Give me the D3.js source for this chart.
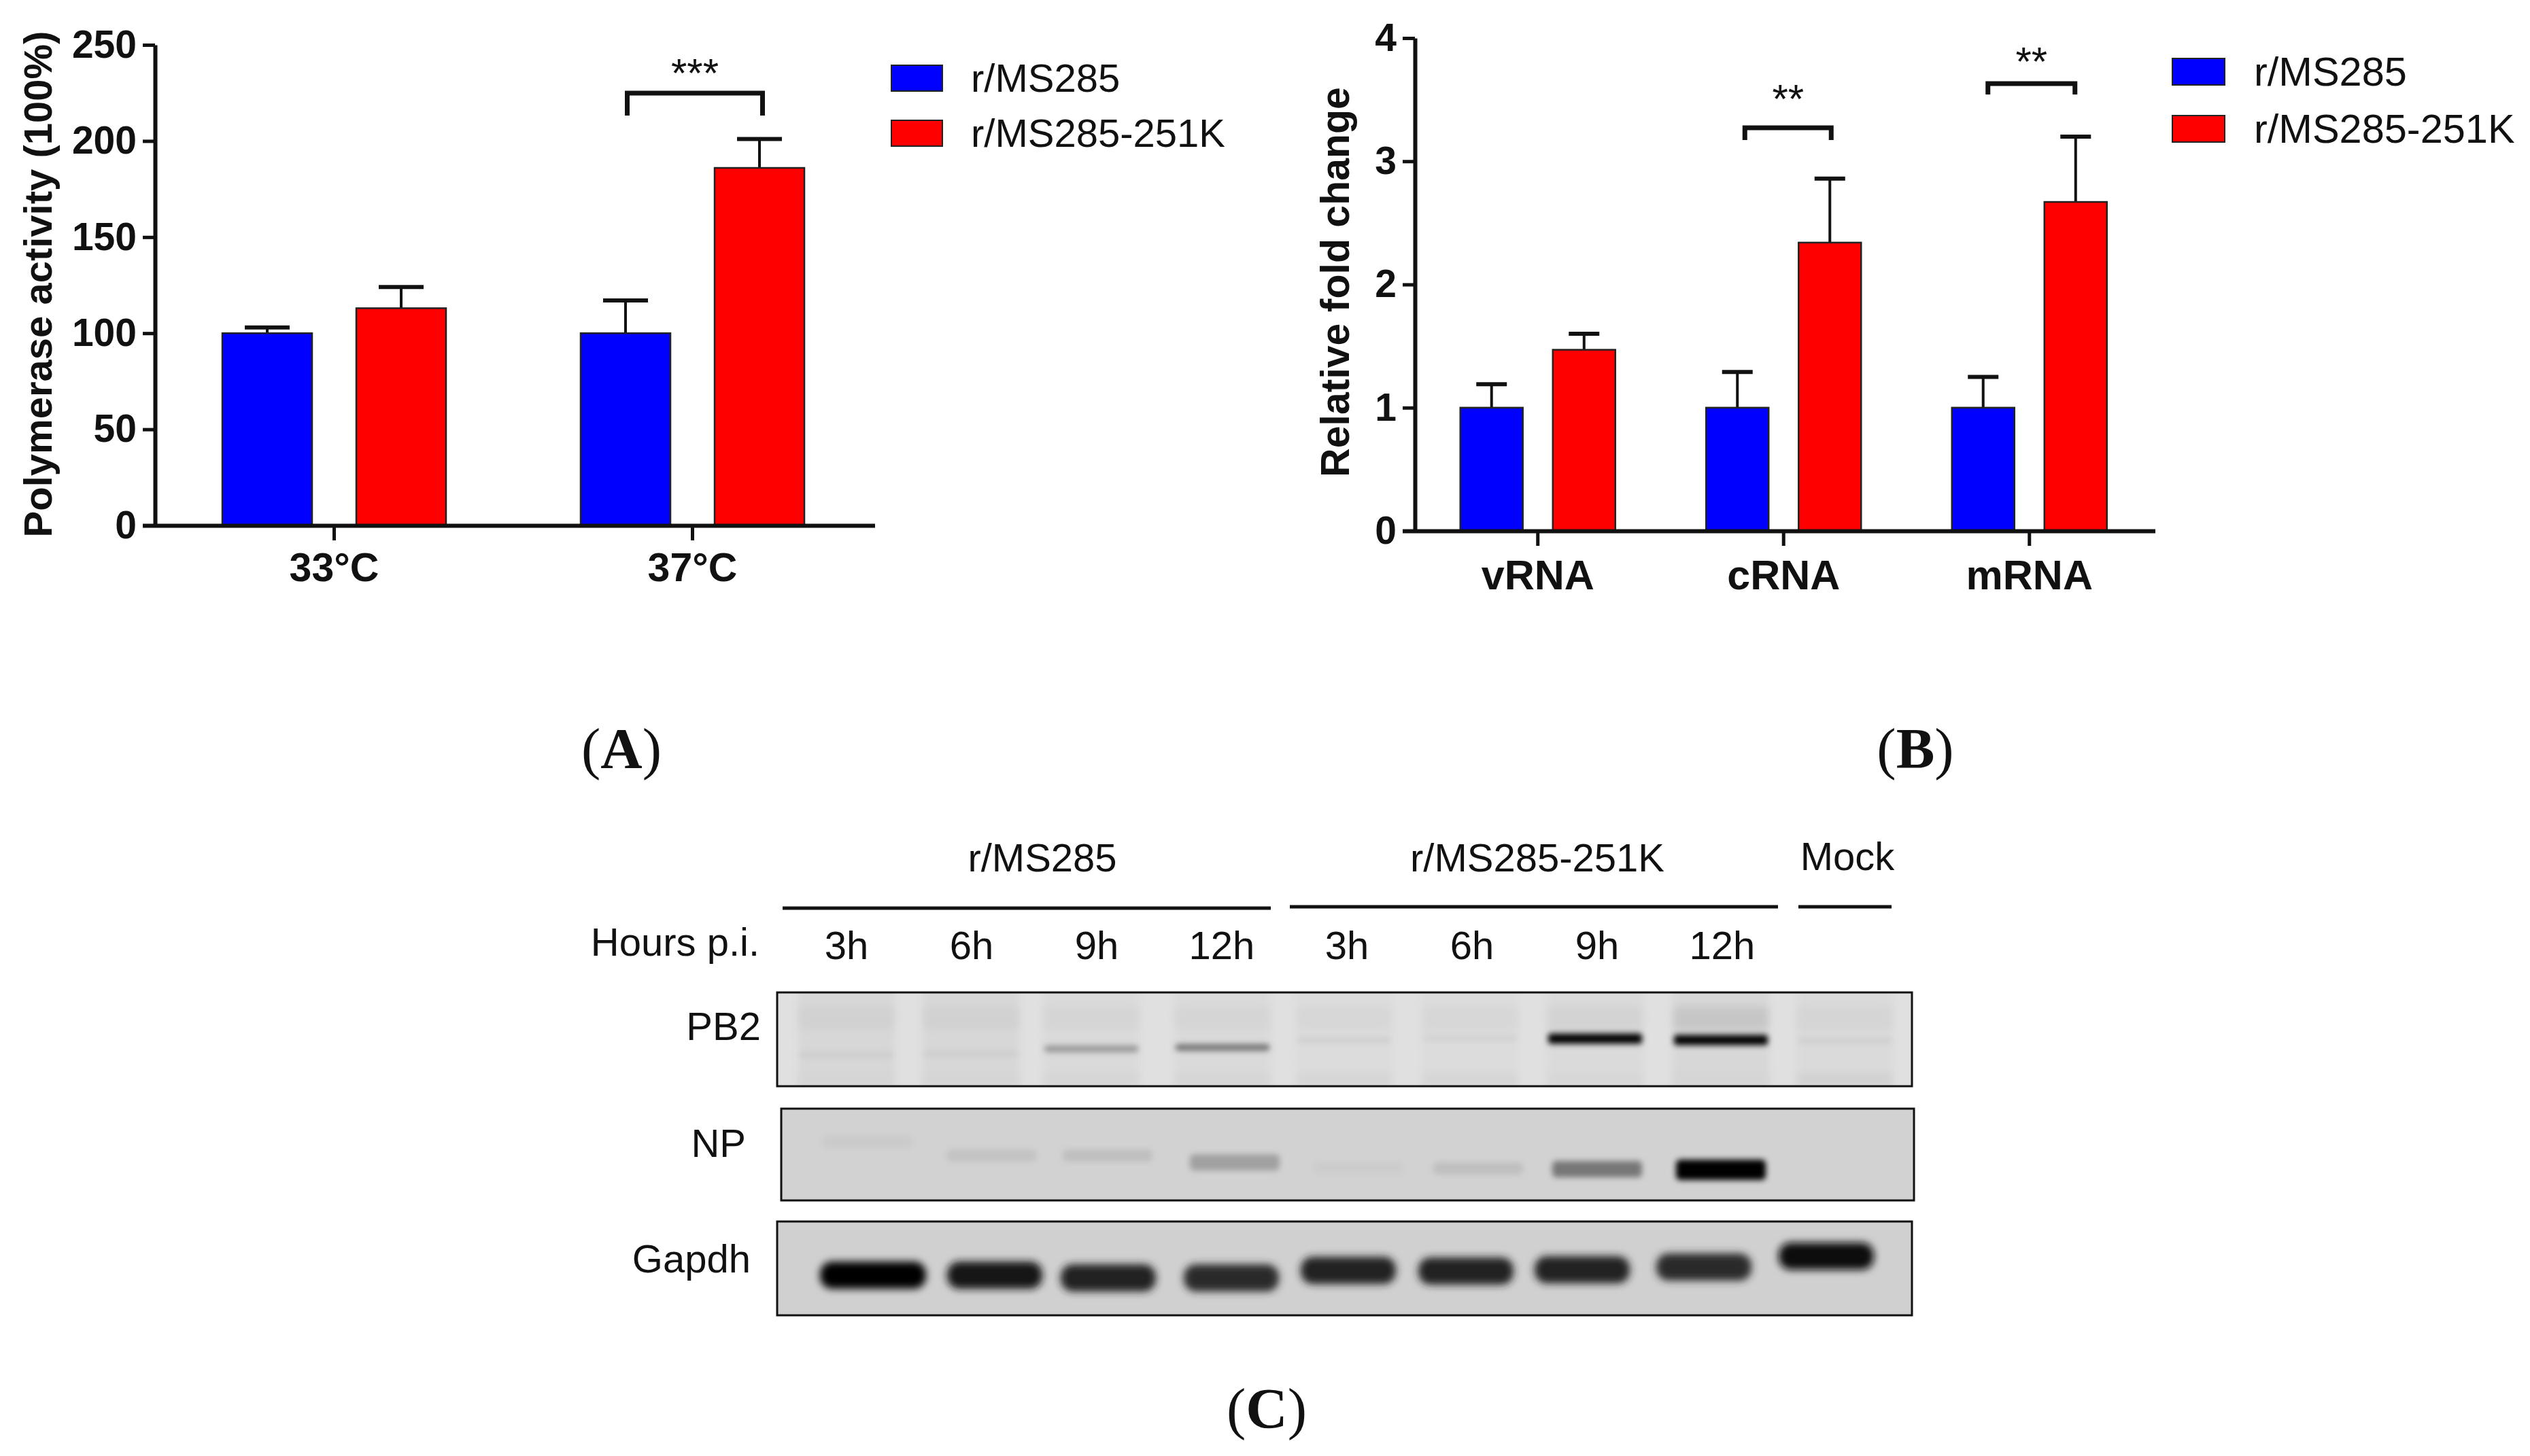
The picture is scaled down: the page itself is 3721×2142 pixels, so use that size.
<!DOCTYPE html>
<html>
<head>
<meta charset="utf-8">
<script src="https://cdn.jsdelivr.net/npm/d3@7"></script>
<style>
	html, body { margin: 0; background: #fff; }
	svg { display: block; }
	text { font-family: "Liberation Sans", Arial, sans-serif; fill: #111; }
	.bold { font-weight: bold; }
</style>
</head>
<body>
<div id="chart"></div>
<script>
//data for panel A
const seriesNames = ['r/MS285', 'r/MS285-251K'];
const seriesColors = ['#0000ff', '#ff0000'];
const tempCategories = ['33°C', '37°C'];
const tempMeans = [[100, 100], [113, 186]];
const tempTops = [[103, 117], [124, 201]];
const tempTicks = [0, 50, 100, 150, 200, 250];

//data for panel B
const rnaCategories = ['vRNA', 'cRNA', 'mRNA'];
const rnaMeans = [[1, 1, 1], [1.47, 2.34, 2.67]];
const rnaTops = [[1.19, 1.29, 1.25], [1.6, 2.86, 3.2]];
const rnaTicks = [0, 1, 2, 3, 4];

//data for panel C: band darkness by lane, 0 = nothing, 1 = black
const hourLabels = ['3h', '6h', '9h', '12h', '3h', '6h', '9h', '12h'];
const laneIds = ['a3', 'a6', 'a9', 'a12', 'b3', 'b6', 'b9', 'b12', 'mock'];
const pb2Signal = [0.07, 0.07, 0.33, 0.5, 0.06, 0.05, 1, 1, 0.06];
const pb2Upper = [0.07, 0.07, 0.05, 0.05, 0.04, 0.04, 0.06, 0.12, 0.05];
const pb2Lower = [0.05, 0.05, 0.05, 0.05, 0.05, 0.05, 0.04, 0.05, 0.07];
const pb2Smear = [0.04, 0.04, 0.03, 0.03, 0.02, 0.02, 0.03, 0.04, 0.03];
const npSignal = [0.04, 0.07, 0.09, 0.24, 0.03, 0.09, 0.45, 1, 0];
const gapdhSignal = [1, 0.93, 0.85, 0.82, 0.85, 0.85, 0.85, 0.82, 0.95];

const W = 3721;
const H = 2142;

const svg = d3.select('#chart')
	.append('svg')
	.attr('width', W)
	.attr('height', H);

const defs = svg.append('defs');
[['blur-soft', 6], ['blur-band', 4.5], ['blur-wide', 9]].forEach(function(f){
	defs.append('filter')
		.attr('id', f[0])
		.attr('x', '-30%').attr('y', '-150%')
		.attr('width', '160%').attr('height', '400%')
		.append('feGaussianBlur')
		.attr('stdDeviation', f[1]);
});

//one bar panel, positions come from the config
function drawBars(cfg){
	const plot = svg.append('g');

	const scaleX = d3.scaleBand().domain(cfg.categories).range(cfg.xRange);
	const half = cfg.groupSpan / 2;
	const scaleSeries = d3.scaleBand()
		.domain(seriesNames)
		.range([-half, half])
		.paddingInner(cfg.barGap);
	const scaleY = d3.scaleLinear().domain(cfg.yDomain).range(cfg.yRange);

	seriesNames.forEach(function(name, s){
		cfg.categories.forEach(function(cat, i){
			const x = scaleX(cat) + scaleX.bandwidth()/2 + scaleSeries(name);
			const mid = x + scaleSeries.bandwidth()/2;
			const node = plot.append('g');

			node.append('line')
				.attr('x1', mid).attr('x2', mid)
				.attr('y1', scaleY(cfg.means[s][i]))
				.attr('y2', scaleY(cfg.tops[s][i]))
				.attr('stroke', '#111')
				.attr('stroke-width', 4);

			node.append('line')
				.attr('x1', mid - cfg.capWidth/2).attr('x2', mid + cfg.capWidth/2)
				.attr('y1', scaleY(cfg.tops[s][i]))
				.attr('y2', scaleY(cfg.tops[s][i]))
				.attr('stroke', '#111')
				.attr('stroke-width', 6);

			node.append('rect')
				.attr('x', x)
				.attr('y', scaleY(cfg.means[s][i]))
				.attr('width', scaleSeries.bandwidth())
				.attr('height', scaleY(0) - scaleY(cfg.means[s][i]))
				.attr('fill', seriesColors[s])
				.attr('stroke', '#222')
				.attr('stroke-width', 2.5);
		});
	});

	const axisY = plot.append('g')
		.attr('transform', `translate(${cfg.xRange[0]}, 0)`)
		.call(d3.axisLeft(scaleY).tickValues(cfg.ticks).tickFormat(d3.format('d')).tickSize(18).tickSizeOuter(0).tickPadding(9));
	const axisX = plot.append('g')
		.attr('transform', `translate(0, ${cfg.yRange[0]})`)
		.call(d3.axisBottom(scaleX).tickSize(22).tickSizeOuter(0).tickPadding(cfg.xPad));

	axisX.select('.domain').attr('d', `M${cfg.xRange[0] - 18},0.5H${cfg.xEnd}`);
	[axisX, axisY].forEach(function(a){
		a.select('.domain').attr('stroke', '#111').attr('stroke-width', 6);
		a.selectAll('.tick line').attr('stroke', '#111').attr('stroke-width', 5);
		a.selectAll('text')
			.attr('class', 'bold')
			.style('font-size', '57px')
			.style('font-family', '"Liberation Sans", Arial, sans-serif')
			.style('fill', '#111');
	});
	axisX.selectAll('text').style('font-size', cfg.xSize + 'px');

	plot.append('text')
		.attr('class', 'bold')
		.attr('transform', `translate(${cfg.titleX}, ${cfg.titleY}) rotate(-90)`)
		.attr('text-anchor', 'middle')
		.style('font-size', cfg.titleSize + 'px')
		.text(cfg.title);

	cfg.brackets.forEach(function(b){
		const cat = scaleX(b.cat) + scaleX.bandwidth()/2;
		const p = d3.path();
		p.moveTo(cat + b.dx[0], b.y[1]);
		p.lineTo(cat + b.dx[0], b.y[0]);
		p.lineTo(cat + b.dx[1], b.y[0]);
		p.lineTo(cat + b.dx[1], b.y[1]);
		plot.append('path')
			.attr('d', p.toString())
			.attr('fill', 'none')
			.attr('stroke', '#111')
			.attr('stroke-width', 7);
		plot.append('text')
			.attr('x', cat + (b.dx[0] + b.dx[1])/2)
			.attr('y', b.starY)
			.attr('text-anchor', 'middle')
			.style('font-size', '60px')
			.text(b.stars);
	});

	seriesNames.forEach(function(name, s){
		plot.append('rect')
			.attr('x', cfg.legendX)
			.attr('y', cfg.legendY[s])
			.attr('width', cfg.swatch[0])
			.attr('height', cfg.swatch[1])
			.attr('fill', seriesColors[s])
			.attr('stroke', '#222')
			.attr('stroke-width', 2);
		plot.append('text')
			.attr('x', cfg.legendX + cfg.swatch[0] + cfg.legendGap)
			.attr('y', cfg.legendY[s] + cfg.swatch[1]/2 + 20)
			.style('font-size', cfg.legendSize + 'px')
			.text(name);
	});
}

drawBars({
	categories: tempCategories, means: tempMeans, tops: tempTops, ticks: tempTicks,
	xRange: [228, 1282], xEnd: 1287, yDomain: [0, 250], yRange: [773, 66],
	groupSpan: 329, barGap: 0.33, capWidth: 66, xPad: 18, xSize: 59,
	title: 'Polymerase activity (100%)', titleX: 76, titleY: 418, titleSize: 58,
	brackets: [{cat: '37°C', dx: [-96, 103], y: [137, 170], stars: '***', starY: 128}],
	legendX: 1311, legendY: [96, 177], swatch: [75, 38], legendGap: 42, legendSize: 58
});

drawBars({
	categories: rnaCategories, means: rnaMeans, tops: rnaTops, ticks: rnaTicks,
	xRange: [2081, 3165.5], xEnd: 3170, yDomain: [0, 4], yRange: [781, 56],
	groupSpan: 228, barGap: 0.324, capWidth: 45, xPad: 21, xSize: 61,
	title: 'Relative fold change', titleX: 1984, titleY: 415, titleSize: 59,
	brackets: [
		{cat: 'cRNA', dx: [-57, 70], y: [188, 206], stars: '**', starY: 166},
		{cat: 'mRNA', dx: [-61, 67], y: [123, 139], stars: '**', starY: 111}
	],
	legendX: 3195, legendY: [86, 170], swatch: [77, 39], legendGap: 43, legendSize: 59.5
});

//panel letters
[['A', 914, 1130], ['B', 2817, 1130], ['C', 1863, 2101]].forEach(function(d){
	const t = svg.append('text')
		.attr('x', d[1]).attr('y', d[2])
		.attr('text-anchor', 'middle')
		.style('font-family', '"Liberation Serif", serif')
		.style('font-size', '85px');
	t.append('tspan').text('(');
	t.append('tspan').attr('font-weight', 'bold').text(d[0]);
	t.append('tspan').text(')');
});

//panel C
const blot = svg.append('g');
const scaleLane = d3.scalePoint().domain(laneIds).range([1245, 2717]);
const scaleDark = d3.scaleLinear().domain([0, 1]).range(['#d6d6d6', '#040404']);

function label(txt, x, y, anchor){
	blot.append('text')
		.attr('x', x).attr('y', y)
		.attr('text-anchor', anchor)
		.style('font-size', '58px')
		.text(txt);
}

label('r/MS285', 1533, 1282, 'middle');
label('r/MS285-251K', 2261, 1282, 'middle');
label('Mock', 2717, 1280, 'middle');
label('Hours p.i.', 1117, 1406, 'end');
hourLabels.forEach(function(h, i){
	label(h, scaleLane(laneIds[i]), 1411, 'middle');
});
[[1151, 1869, 1336], [1897, 2615, 1334], [2645, 2782, 1334]].forEach(function(l){
	blot.append('line')
		.attr('x1', l[0]).attr('x2', l[1])
		.attr('y1', l[2]).attr('y2', l[2])
		.attr('stroke', '#111')
		.attr('stroke-width', 5);
});
label('PB2', 1119, 1530, 'end');
label('NP', 1097, 1702, 'end');
label('Gapdh', 1104, 1872, 'end');

function blotPanel(id, x0, x1, y0, y1, bg){
	blot.append('clipPath').attr('id', id)
		.append('rect').attr('x', x0).attr('y', y0).attr('width', x1 - x0).attr('height', y1 - y0);
	blot.append('rect')
		.attr('x', x0).attr('y', y0).attr('width', x1 - x0).attr('height', y1 - y0)
		.attr('fill', bg);
	const inner = blot.append('g').attr('clip-path', `url(#${id})`);
	return {
		inner: inner,
		frame: function(){
			blot.append('rect')
				.attr('x', x0).attr('y', y0).attr('width', x1 - x0).attr('height', y1 - y0)
				.attr('fill', 'none')
				.attr('stroke', '#111')
				.attr('stroke-width', 3);
		}
	};
}

function bands(g, values, o){
	g.selectAll(null)
		.data(laneIds.map(function(id, i){ return {id: id, v: values[i], i: i}; }))
		.join('rect')
		.attr('x', d => scaleLane(d.id) + o.dx(d.i) - o.w(d)/2)
		.attr('y', d => o.mid(d.i) - o.h(d)/2)
		.attr('width', d => o.w(d))
		.attr('height', d => o.h(d))
		.attr('rx', o.rx)
		.attr('fill', d => o.color(d.v))
		.attr('opacity', d => d.v > 0 ? 1 : 0)
		.attr('filter', `url(#${o.filter})`);
}

//lane placement on the film, not the same as the label grid
const pb2Shift = [0, -1, -8, 1, -4, -3, -3, -2, -4];
const npShift = [31, 29, 16, 19, 17, 9, 0, -2, 0];
const gapdhShift = [39, 34, 17, 14, 2, -9, -22, -27, -31];
const pb2Mid = [1552, 1550, 1543, 1541, 1530, 1527, 1528, 1530, 1531];
const npMid = [1680, 1700, 1700, 1710, 1718, 1719, 1720, 1721, 1720];
const gapdhMid = [1876, 1876, 1880, 1880, 1869, 1870, 1868, 1864, 1848];

//PB2, three faint rows under the real signal
const pb2 = blotPanel('clip-pb2', 1143, 2812, 1460, 1598, '#e0e0e0');
const pb2Faint = d3.scaleLinear().domain([0, 0.13]).range(['#e0e0e0', '#c4c4c4']);
bands(pb2.inner, pb2Smear, {
	dx: i => pb2Shift[i], mid: () => 1529, w: () => 142, h: () => 150, rx: 2,
	color: pb2Faint, filter: 'blur-soft'
});
bands(pb2.inner, pb2Upper, {
	dx: i => pb2Shift[i], mid: () => 1498, w: () => 138, h: () => 34, rx: 6,
	color: pb2Faint, filter: 'blur-soft'
});
bands(pb2.inner, pb2Lower, {
	dx: i => pb2Shift[i], mid: () => 1588, w: () => 138, h: () => 18, rx: 4,
	color: pb2Faint, filter: 'blur-soft'
});
bands(pb2.inner, pb2Signal, {
	dx: i => pb2Shift[i], mid: i => pb2Mid[i],
	w: () => 138,
	h: d => d.v > 0.8 ? 15 : 9, rx: 4,
	color: d3.scaleLinear().domain([0, 0.1, 0.5, 1]).range(['#dcdcdc', '#c6c6c6', '#6a6a6a', '#030303']), filter: 'blur-band'
});
pb2.frame();

//NP
const np = blotPanel('clip-np', 1149, 2815, 1631, 1766, '#d2d2d2');
bands(np.inner, npSignal, {
	dx: i => npShift[i], mid: i => npMid[i],
	w: () => 132,
	h: d => d.v > 0.8 ? 30 : (d.v > 0.2 ? 24 : 18), rx: 6,
	color: d3.scaleLinear().domain([0, 0.1, 0.45, 1]).range(['#d2d2d2', '#bdbdbd', '#777777', '#030303']), filter: 'blur-band'
});
np.frame();

//Gapdh
const gapdh = blotPanel('clip-gapdh', 1143, 2812, 1797, 1935, '#d0d0d0');
bands(gapdh.inner, gapdhSignal, {
	dx: i => gapdhShift[i], mid: i => gapdhMid[i],
	w: d => d.i === 0 ? 156 : 140,
	h: () => 40, rx: 18,
	color: scaleDark, filter: 'blur-soft'
});
gapdh.frame();
</script>
</body>
</html>
